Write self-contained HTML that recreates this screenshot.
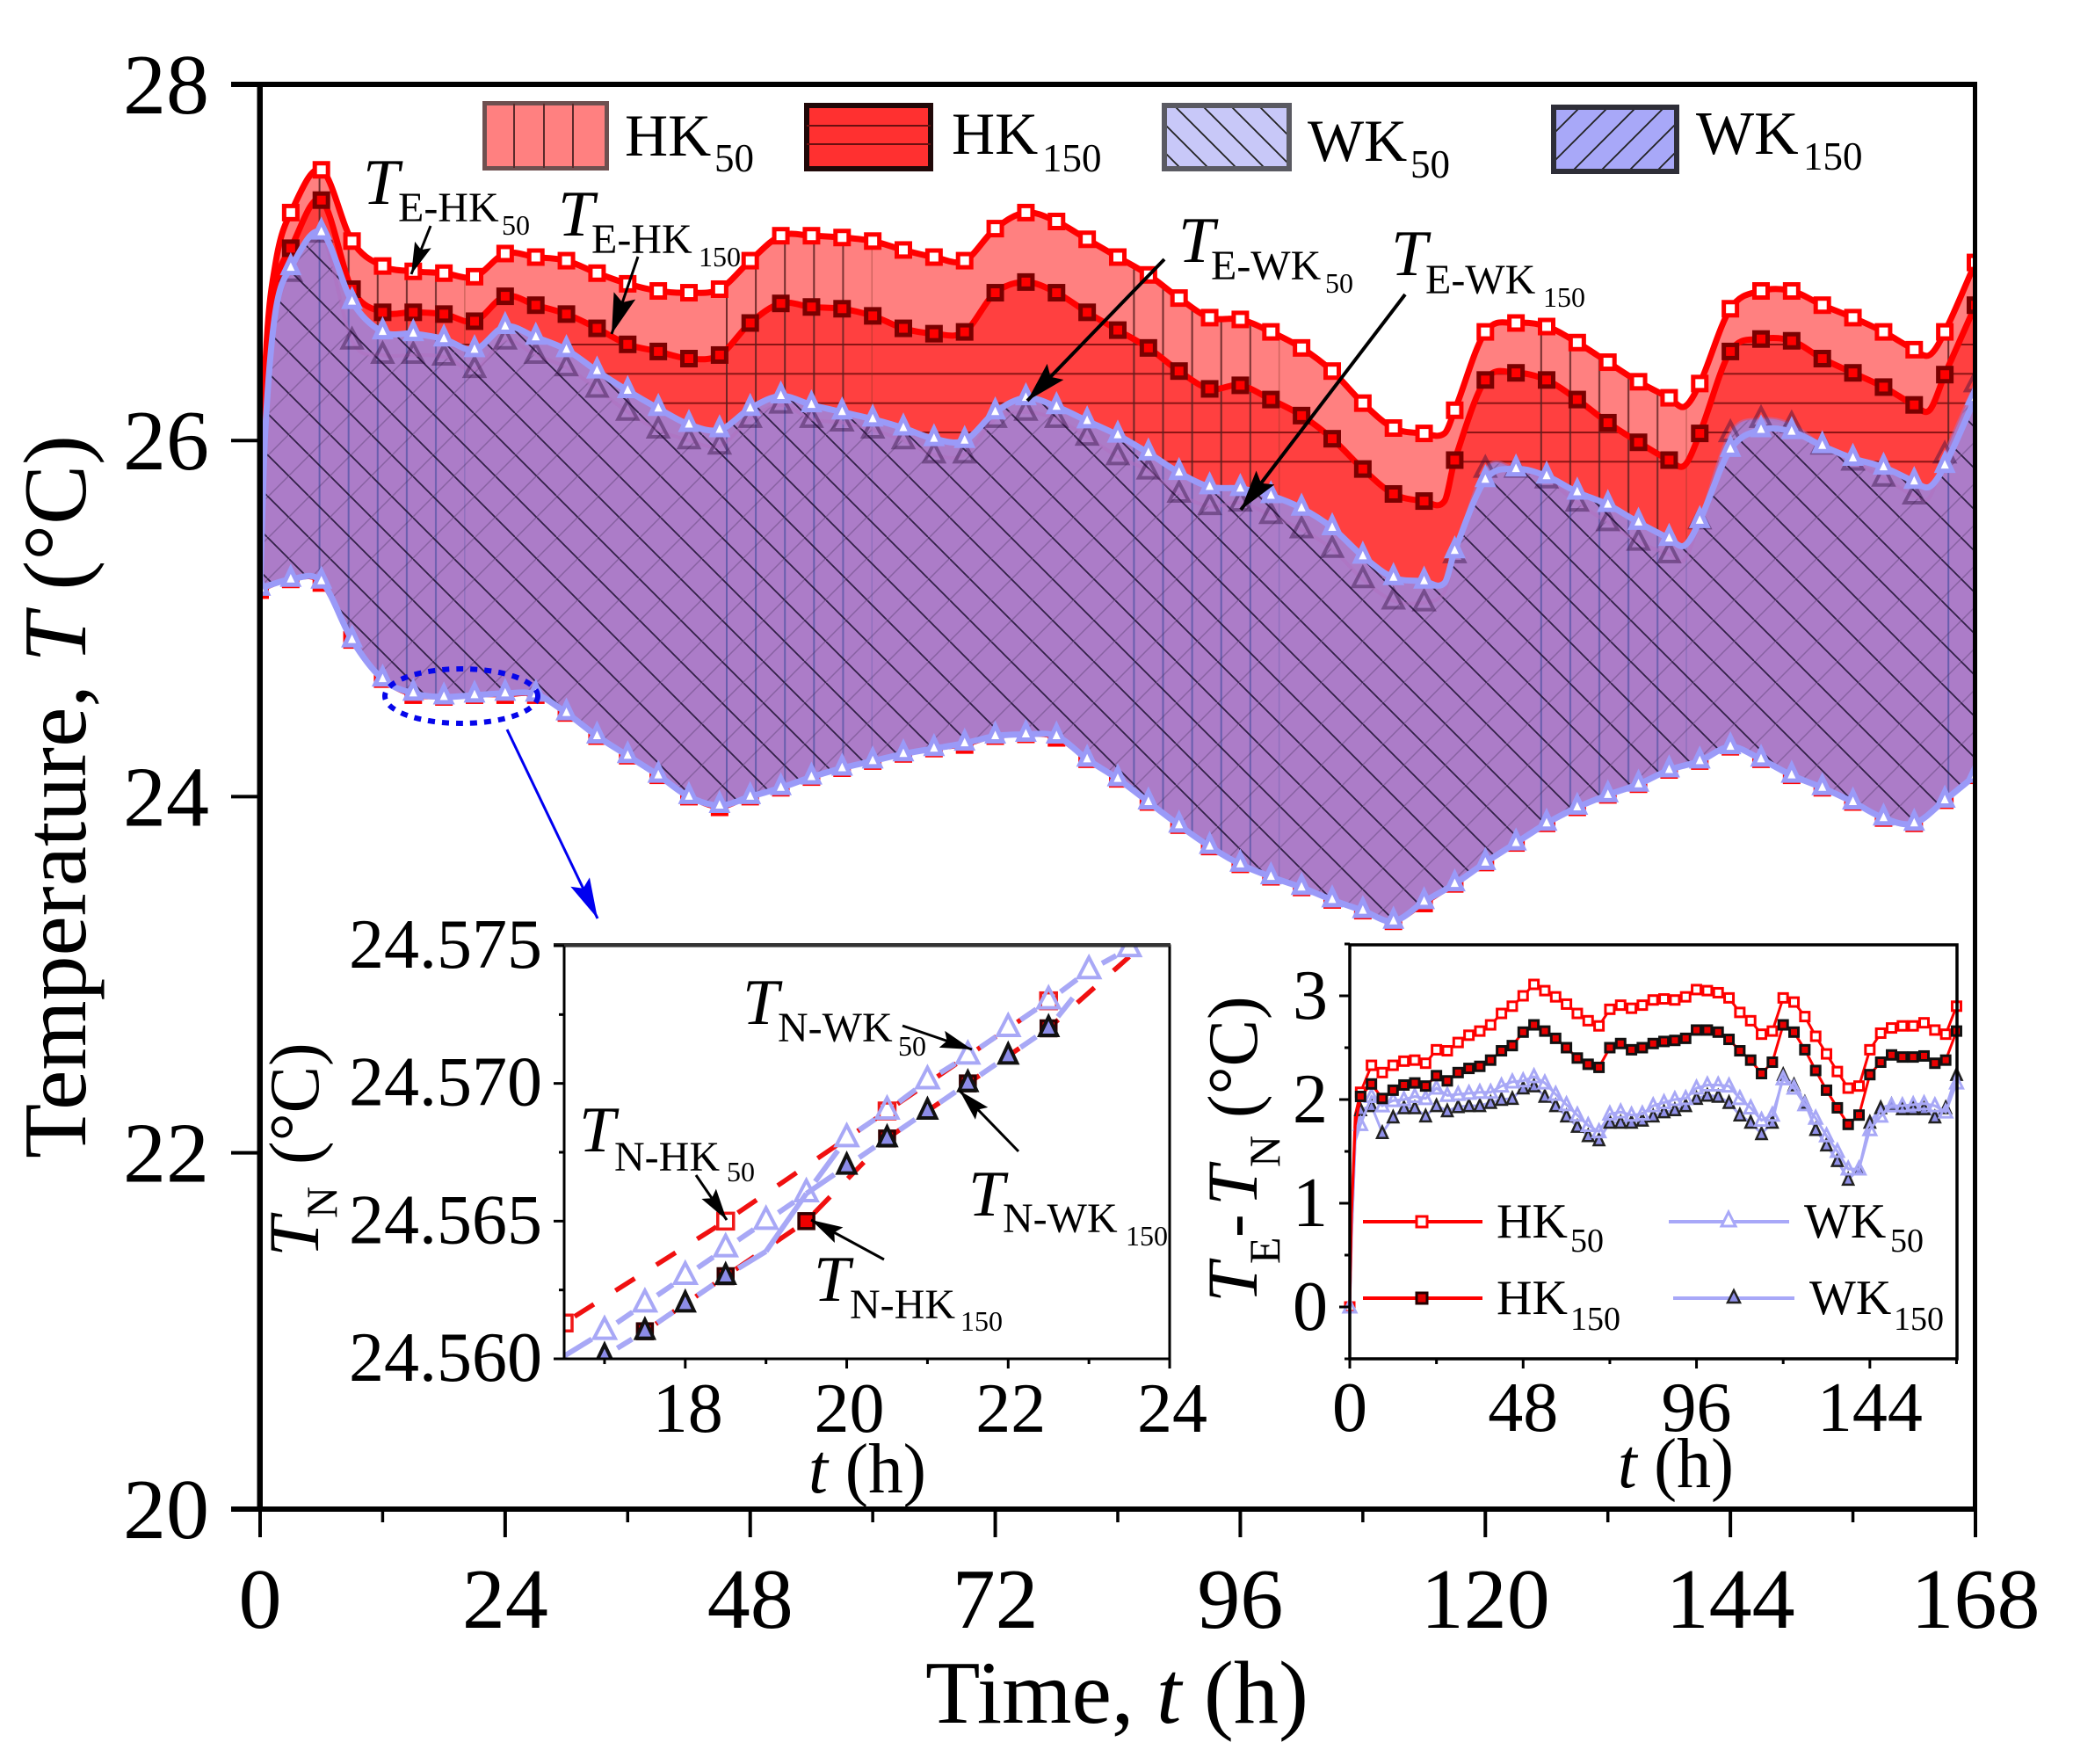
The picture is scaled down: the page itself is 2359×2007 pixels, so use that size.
<!DOCTYPE html>
<html lang="en">
<head>
<meta charset="utf-8">
<title>Temperature over time for HK and WK cases</title>
<style>
html,body{margin:0;padding:0;background:#fff;}
svg{display:block;font-family:"Liberation Serif","Times New Roman",serif;fill:#000;}
.i{font-style:italic;}
</style>
</head>
<body>
<svg id="chart" xmlns="http://www.w3.org/2000/svg" width="2359" height="2007" viewBox="0 0 2359 2007">
<defs>
  <pattern id="hatch-v-red" patternUnits="userSpaceOnUse" x="362.6" y="0" width="463.4" height="20">
    <rect x="0" width="2" height="20" fill="#5a2020" opacity=".85"/><rect x="33.1" width="2" height="20" fill="#5a2020" opacity=".85"/><rect x="66.2" width="2" height="20" fill="#5a2020" opacity=".85"/><rect x="99.3" width="2" height="20" fill="#5a2020" opacity=".85"/><rect x="132.4" width="2" height="20" fill="#5a2020" opacity=".8"/><rect x="165.5" width="1.5" height="20" fill="#7a3020" opacity=".35"/>
  </pattern>
  <pattern id="hatch-v-blue" patternUnits="userSpaceOnUse" x="362.6" y="0" width="463.4" height="20">
    <rect x="0" width="2" height="20" fill="#5c58a8" opacity=".85"/><rect x="33.1" width="2" height="20" fill="#5c58a8" opacity=".85"/><rect x="66.2" width="2" height="20" fill="#5c58a8" opacity=".85"/><rect x="99.3" width="2" height="20" fill="#5c58a8" opacity=".85"/><rect x="132.4" width="2" height="20" fill="#5c58a8" opacity=".8"/><rect x="165.5" width="1.5" height="20" fill="#5c58a8" opacity=".35"/>
  </pattern>
  <pattern id="hatch-h" patternUnits="userSpaceOnUse" x="0" y="391" width="20" height="463.4">
    <rect y="0" width="20" height="2" fill="#8c1414"/><rect y="33.3" width="20" height="2" fill="#8c1414"/><rect y="66.7" width="20" height="2" fill="#8c1414"/><rect y="100" width="20" height="2" fill="#8c1414"/><rect y="133.3" width="20" height="2" fill="#8c1414"/>
  </pattern>
  <pattern id="hatch-back" patternUnits="userSpaceOnUse" width="47" height="47">
    <path d="M22 0L47 25M0 25L22 47" stroke="#1c1030" stroke-width="1.8" fill="none" opacity=".85"/>
  </pattern>
  <pattern id="hatch-fwd" patternUnits="userSpaceOnUse" width="47" height="47">
    <path d="M24 0L0 24M47 24L24 47" stroke="#3a2a50" stroke-width="1.5" fill="none" opacity=".32"/>
  </pattern>
  <pattern id="hatch-back-sw" patternUnits="userSpaceOnUse" width="32" height="32">
    <path d="M0 0L32 32M-8 24L8 40M24 -8L40 8" stroke="#222" stroke-width="1.8" fill="none"/>
  </pattern>
  <pattern id="hatch-fwd-sw" patternUnits="userSpaceOnUse" width="32" height="32">
    <path d="M32 0L0 32M8 -8L-8 8M40 24L24 40" stroke="#222" stroke-width="1.8" fill="none"/>
  </pattern>
  <marker id="head-big" markerUnits="userSpaceOnUse" orient="auto" markerWidth="50" markerHeight="30" refX="46" refY="15"><path d="M0 2L46 15L0 28L8 15Z" fill="#000"/></marker>
  <marker id="head-mid" markerUnits="userSpaceOnUse" orient="auto" markerWidth="40" markerHeight="26" refX="36" refY="13"><path d="M0 3L36 13L0 23L6 13Z" fill="#000"/></marker>
  <marker id="head-blue" markerUnits="userSpaceOnUse" orient="auto" markerWidth="50" markerHeight="30" refX="46" refY="15"><path d="M0 3L46 15L0 27L8 15Z" fill="#0000f0"/></marker>
  <clipPath id="clip-main"><rect x="296" y="96" width="1950" height="1621"/></clipPath>
  <clipPath id="clip-inset1"><rect x="642" y="1076" width="689" height="470"/></clipPath>
</defs>

<rect width="2359" height="2007" fill="#fff"/>

<g id="main-series" clip-path="url(#clip-main)"></g>

<!-- main frame -->
<g fill="#000">
  <rect x="263" y="93" width="1985" height="6"/>
  <rect x="292.5" y="93" width="6.5" height="1626"/>
  <rect x="2245" y="93" width="5" height="1626"/>
  <rect x="263" y="1714" width="1987" height="6"/>
</g>
<g id="main-ticks"></g>

<text transform="translate(97,1318) rotate(-90)" font-size="102" textLength="823" lengthAdjust="spacingAndGlyphs">Temperature, <tspan class="i">T</tspan> (°C)</text>
<text x="1053" y="1960" font-size="102" textLength="436" lengthAdjust="spacingAndGlyphs">Time, <tspan class="i">t</tspan> (h)</text>

<!-- main legend -->
<g>
  <g>
    <rect x="551.5" y="117.5" width="139" height="74" fill="#ff8080" stroke="#6e5050" stroke-width="5"/>
    <path d="M585 118V191M619 118V191M652 118V191" stroke="#5a2a2a" stroke-width="2"/>
    <text x="711" y="177" font-size="68">HK</text>
    <text x="813" y="195" font-size="45">50</text>
  </g>
  <g>
    <rect x="918" y="120" width="141" height="72" fill="#ff3030" stroke="#200808" stroke-width="6"/>
    <path d="M918 143H1059M918 164H1059" stroke="#6a1010" stroke-width="2"/>
    <text x="1083" y="175" font-size="68">HK</text>
    <text x="1186" y="195" font-size="45">150</text>
  </g>
  <g>
    <rect x="1325" y="120" width="142" height="72" fill="#c8c8f8" stroke="#5a5a62" stroke-width="6"/>
    <rect x="1328" y="123" width="136" height="66" fill="url(#hatch-back-sw)"/>
    <text x="1488" y="183" font-size="68">WK</text>
    <text x="1605" y="202" font-size="45">50</text>
  </g>
  <g>
    <rect x="1768" y="122" width="140" height="73" fill="#a8a8f8" stroke="#2e2e38" stroke-width="6"/>
    <rect x="1771" y="125" width="134" height="67" fill="url(#hatch-fwd-sw)"/>
    <text x="1930" y="175" font-size="70">WK</text>
    <text x="2052" y="193" font-size="45">150</text>
  </g>
</g>

<g>
  <g>
    <text class="i" x="413" y="232" font-size="74">T</text>
    <text x="453" y="252" font-size="48">E-HK</text>
    <text x="571" y="267" font-size="32">50</text>
  </g>
  <g>
    <text class="i" x="635" y="268" font-size="74">T</text>
    <text x="673" y="288" font-size="48">E-HK</text>
    <text x="795" y="303" font-size="32">150</text>
  </g>
  <g>
    <text class="i" x="1341" y="298" font-size="74">T</text>
    <text x="1378" y="318" font-size="48">E-WK</text>
    <text x="1508" y="333" font-size="32">50</text>
  </g>
  <g>
    <text class="i" x="1583" y="313" font-size="74">T</text>
    <text x="1622" y="334" font-size="48">E-WK</text>
    <text x="1756" y="349" font-size="32">150</text>
  </g>
  <line x1="490" y1="257" x2="468" y2="312" stroke="#000" stroke-width="3" marker-end="url(#head-mid)"/>
  <line x1="726" y1="292" x2="696" y2="380" stroke="#000" stroke-width="3" marker-end="url(#head-big)"/>
  <line x1="1325" y1="295" x2="1169" y2="456" stroke="#000" stroke-width="4" marker-end="url(#head-big)"/>
  <line x1="1599" y1="335" x2="1412" y2="580" stroke="#000" stroke-width="4" marker-end="url(#head-big)"/>
  <ellipse cx="525" cy="792" rx="87" ry="31" fill="none" stroke="#0606ea" stroke-width="6" stroke-dasharray="8 8"/>
  <line x1="577" y1="830" x2="680" y2="1045" stroke="#0000f0" stroke-width="3" marker-end="url(#head-blue)"/>
</g>

<!-- inset 1 -->
<g>
  <rect x="642" y="1076" width="689" height="470" fill="#fff"/>
  <g id="inset1-series" clip-path="url(#clip-inset1)"></g>
  <path d="M642 1076H1331V1546H642Z" fill="none" stroke="#000" stroke-width="3"/>
  <rect x="630" y="1073" width="702" height="4" fill="#333"/>
  <g id="inset1-ticks"></g>
  <text x="920" y="1698" font-size="80" textLength="134" lengthAdjust="spacingAndGlyphs"><tspan class="i">t</tspan> (h)</text>
  <g>
    <text class="i" transform="translate(362,1430) rotate(-90)" font-size="82">T</text>
    <text transform="translate(383,1386) rotate(-90)" font-size="50">N</text>
    <text transform="translate(362,1325) rotate(-90)" font-size="80">(°C)</text>
  </g>
  <g>
    <text class="i" x="845" y="1165" font-size="74">T</text>
    <text x="885" y="1185" font-size="48">N-WK</text>
    <text x="1022" y="1201" font-size="32">50</text>
  </g>
  <g>
    <text class="i" x="659" y="1310" font-size="74">T</text>
    <text x="699" y="1332" font-size="48">N-HK</text>
    <text x="827" y="1344" font-size="32">50</text>
  </g>
  <g>
    <text class="i" x="1102" y="1383" font-size="74">T</text>
    <text x="1141" y="1402" font-size="48">N-WK</text>
    <text x="1281" y="1417" font-size="32">150</text>
  </g>
  <g>
    <text class="i" x="926" y="1480" font-size="74">T</text>
    <text x="967" y="1500" font-size="48">N-HK</text>
    <text x="1093" y="1514" font-size="32">150</text>
  </g>
  <line x1="1027" y1="1167" x2="1106" y2="1194" stroke="#000" stroke-width="3" marker-end="url(#head-mid)"/>
  <line x1="1159" y1="1310" x2="1092" y2="1241" stroke="#000" stroke-width="3" marker-end="url(#head-mid)"/>
  <line x1="1006" y1="1433" x2="923" y2="1388" stroke="#000" stroke-width="3" marker-end="url(#head-mid)"/>
  <line x1="792" y1="1337" x2="827" y2="1388" stroke="#000" stroke-width="3" marker-end="url(#head-mid)"/>
</g>

<!-- inset 2 -->
<g>
  <rect x="1536" y="1075" width="691" height="471" fill="#fff"/>
  <g id="inset2-series"></g>
  <path d="M1536 1075H2227V1546H1536Z" fill="none" stroke="#000" stroke-width="3.5"/>
  <g id="inset2-ticks"></g>
  <text x="1841" y="1692" font-size="80" textLength="132" lengthAdjust="spacingAndGlyphs"><tspan class="i">t</tspan> (h)</text>
  <g>
    <text class="i" transform="translate(1430,1482) rotate(-90)" font-size="82">T</text>
    <text transform="translate(1456,1438) rotate(-90)" font-size="50">E</text>
    <text transform="translate(1430,1408) rotate(-90)" font-size="80">-</text>
    <text class="i" transform="translate(1430,1372) rotate(-90)" font-size="82">T</text>
    <text transform="translate(1456,1328) rotate(-90)" font-size="50">N</text>
    <text transform="translate(1430,1272) rotate(-90)" font-size="80">(°C)</text>
  </g>
  <g id="inset2-legend">
    <g>
      <line x1="1551" x2="1687" y1="1390" y2="1390" stroke="#f00" stroke-width="4"/>
      <rect x="1612" y="1384" width="12" height="12" fill="#fff" stroke="#f00" stroke-width="3"/>
      <text x="1703" y="1408" font-size="56">HK</text>
      <text x="1787" y="1424" font-size="38">50</text>
    </g>
    <g>
      <line x1="1551" x2="1687" y1="1477" y2="1477" stroke="#f00" stroke-width="4"/>
      <rect x="1612" y="1471" width="12" height="12" fill="#e00000" stroke="#200" stroke-width="3"/>
      <text x="1703" y="1495" font-size="56">HK</text>
      <text x="1787" y="1513" font-size="38">150</text>
    </g>
    <g>
      <line x1="1899" x2="2036" y1="1390" y2="1390" stroke="#a8a8f8" stroke-width="4"/>
      <polygon points="1967,1379 1975,1395 1959,1395" fill="#fff" stroke="#a8a8f8" stroke-width="3"/>
      <text x="2053" y="1408" font-size="56">WK</text>
      <text x="2151" y="1424" font-size="38">50</text>
    </g>
    <g>
      <line x1="1904" x2="2042" y1="1477" y2="1477" stroke="#a8a8f8" stroke-width="4"/>
      <polygon points="1973,1468 1980,1482 1966,1482" fill="#9090e8" stroke="#222" stroke-width="2.5"/>
      <text x="2059" y="1495" font-size="56">WK</text>
      <text x="2155" y="1513" font-size="38">150</text>
    </g>
  </g>
</g>
</svg>

<script>
// ---------- main chart data ----------
const hoursEdge = [0,0.5,1.5,3,6,9,12,15,18,21,24,27,30,33,36,39,42,45,48,51,54,57,60,63,66,69,72,75,78,81,84,87,90,93,96,99,102,105,108,111,114,116,117,120,123,126,129,132,135,138,139.5,141,144,147,150,153,156,159,162,163.5,165,168];
const edgeHK50 = [25.17,26.4,26.99,27.28,27.52,27.12,26.98,26.95,26.94,26.92,27.05,27.03,27.01,26.94,26.88,26.84,26.83,26.85,27.01,27.15,27.15,27.14,27.12,27.07,27.03,27.01,27.19,27.28,27.23,27.13,27.03,26.93,26.80,26.69,26.68,26.61,26.52,26.39,26.21,26.07,26.04,26.04,26.17,26.61,26.66,26.64,26.55,26.44,26.33,26.24,26.19,26.32,26.74,26.84,26.84,26.76,26.69,26.61,26.51,26.48,26.61,27.00];
const edgeHK150 = [25.17,26.25,26.85,27.08,27.35,26.85,26.72,26.72,26.71,26.67,26.81,26.76,26.71,26.63,26.54,26.50,26.46,26.48,26.66,26.77,26.75,26.74,26.70,26.63,26.60,26.61,26.83,26.89,26.83,26.72,26.62,26.52,26.39,26.29,26.31,26.23,26.14,26.01,25.84,25.70,25.66,25.66,25.89,26.34,26.38,26.34,26.23,26.10,25.99,25.89,25.86,26.04,26.50,26.57,26.56,26.46,26.38,26.30,26.20,26.17,26.37,26.76];
const edgeWK50 = [25.17,26.05,26.72,26.97,27.17,26.78,26.61,26.60,26.57,26.51,26.64,26.58,26.51,26.39,26.28,26.18,26.09,26.06,26.18,26.25,26.20,26.16,26.12,26.07,26.01,26.00,26.16,26.24,26.19,26.11,26.03,25.93,25.82,25.74,25.73,25.69,25.62,25.51,25.35,25.23,25.21,25.20,25.38,25.78,25.84,25.80,25.71,25.64,25.54,25.45,25.41,25.55,25.95,26.06,26.05,25.97,25.90,25.85,25.77,25.74,25.86,26.24];
const edgeWK150 = [25.17,26.0,26.68,26.94,27.16,26.56,26.48,26.48,26.47,26.40,26.56,26.48,26.41,26.29,26.16,26.06,26.00,25.97,26.12,26.20,26.12,26.10,26.06,26.00,25.92,25.92,26.12,26.16,26.12,26.02,25.91,25.83,25.70,25.63,25.65,25.58,25.50,25.39,25.22,25.10,25.09,25.15,25.36,25.84,25.84,25.78,25.65,25.54,25.43,25.36,25.33,25.55,26.04,26.12,26.09,25.97,25.88,25.79,25.69,25.68,25.92,26.32];
const hoursNode = [0,3,6,9,12,15,18,21,24,27,30,33,36,39,42,45,48,51,54,57,60,63,66,69,72,75,78,81,84,87,90,93,96,99,102,105,108,111,114,117,120,123,126,129,132,135,138,141,144,147,150,153,156,159,162,165,168];
const nodeWK = [25.17,25.22,25.21,24.88,24.66,24.58,24.56,24.57,24.58,24.575,24.47,24.34,24.23,24.12,24.00,23.95,24.00,24.05,24.11,24.16,24.20,24.24,24.27,24.30,24.34,24.35,24.34,24.21,24.10,23.97,23.84,23.72,23.62,23.55,23.49,23.42,23.36,23.30,23.41,23.51,23.63,23.74,23.85,23.94,24.01,24.07,24.15,24.20,24.28,24.21,24.12,24.05,23.97,23.88,23.85,23.98,24.12];
const nodeHK = [25.16,25.22,25.20,24.88,24.66,24.57,24.56,24.57,24.57,24.57,24.47,24.34,24.23,24.12,24.00,23.94,24.00,24.05,24.11,24.16,24.20,24.24,24.27,24.29,24.34,24.35,24.33,24.21,24.10,23.97,23.84,23.72,23.62,23.55,23.49,23.42,23.36,23.30,23.40,23.51,23.63,23.74,23.85,23.94,24.01,24.07,24.15,24.20,24.28,24.21,24.12,24.05,23.97,23.88,23.85,23.98,24.12];
const mainXMajor = [0,24,48,72,96,120,144,168];
const mainXMinor = [12,36,60,84,108,132,156];
const mainYMajor = [20,22,24,26,28];

// ---------- inset 1 data (node temperature zoom) ----------
const inset1HoursWK50 = [16.5,17,17.5,18,18.5,19,19.5,20,20.5,21,21.5,22,22.5,23,23.5];
const inset1WK50 = [24.5601,24.5610,24.5620,24.5630,24.5640,24.5650,24.5660,24.5680,24.5690,24.5701,24.5710,24.5720,24.5730,24.5741,24.5749];
const inset1HoursWK150 = [16.5,17,17.5,18,18.5,19,19.5,20,20.5,21,21.5,22,22.5,22.8];
const inset1WK150 = [24.5591,24.5601,24.5610,24.5620,24.5630,24.5639,24.5660,24.5670,24.5680,24.5690,24.5700,24.5710,24.5720,24.5731];
const inset1WK150NoMarker = [16.5,19,19.5,22.8];
const inset1HoursHK50 = [16.5,18.5,20.5,22.5];
const inset1HK50 = [24.5613,24.5650,24.5690,24.5730];
const inset1HoursHK150 = [17.5,18.5,19.5,20.5,21.5,22.5,23.5];
const inset1HK150 = [24.5610,24.5630,24.5650,24.5680,24.5700,24.5720,24.5746];
const inset1HK150NoMarker = [23.5];
const inset1XMajor = [18,20,22,24];
const inset1XMinor = [17,19,21,23];
const inset1YMajor = ["24.560","24.565","24.570","24.575"];
const inset1YMinor = [24.5625,24.5675,24.5725];

// ---------- inset 2 data (difference) ----------
const hoursDiff = [0,0.5,1.5,3,6,9,12,15,18,21,24,27,30,33,36,39,42,45,48,51,54,57,60,63,66,69,72,75,78,81,84,87,90,93,96,99,102,105,108,111,114,117,120,123,126,129,132,135,138,141,144,147,150,153,156,159,162,165,168];
const diffHK50 = [0,0.9,1.85,2.07,2.33,2.26,2.33,2.37,2.38,2.35,2.48,2.47,2.55,2.62,2.66,2.72,2.83,2.90,3.00,3.11,3.05,2.99,2.92,2.83,2.76,2.71,2.87,2.91,2.88,2.91,2.96,2.97,2.96,2.99,3.06,3.05,3.03,2.98,2.84,2.76,2.63,2.66,2.98,2.94,2.80,2.61,2.44,2.27,2.11,2.13,2.48,2.64,2.69,2.71,2.71,2.74,2.67,2.63,2.90];
const diffHK150 = [0,0.9,1.75,2.03,2.15,2.01,2.09,2.14,2.16,2.13,2.23,2.18,2.26,2.30,2.32,2.38,2.47,2.52,2.65,2.72,2.66,2.59,2.50,2.40,2.34,2.31,2.50,2.54,2.48,2.50,2.54,2.56,2.57,2.59,2.67,2.67,2.65,2.58,2.47,2.38,2.25,2.36,2.72,2.65,2.48,2.28,2.09,1.92,1.76,1.85,2.24,2.36,2.43,2.41,2.41,2.42,2.35,2.38,2.66];
const diffWK50 = [0,0.7,1.6,1.76,2.03,1.94,1.99,2.00,2.03,2.01,2.11,2.04,2.05,2.06,2.07,2.07,2.13,2.17,2.18,2.22,2.16,2.05,1.95,1.85,1.75,1.69,1.86,1.88,1.85,1.86,1.94,1.97,2.00,2.01,2.11,2.14,2.14,2.13,2.01,1.92,1.80,1.85,2.20,2.11,1.95,1.82,1.65,1.50,1.33,1.33,1.71,1.84,1.94,1.94,1.95,1.96,1.94,1.88,2.16];
const diffWK150 = [0,0.7,1.6,1.90,1.94,1.68,1.83,1.92,1.92,1.84,1.94,1.89,1.93,1.94,1.94,1.97,2.00,2.01,2.11,2.13,2.03,1.94,1.84,1.74,1.65,1.61,1.78,1.78,1.78,1.80,1.84,1.88,1.90,1.94,2.01,2.04,2.03,1.97,1.85,1.78,1.67,1.78,2.24,2.14,1.97,1.71,1.56,1.41,1.23,1.33,1.78,1.92,1.95,1.91,1.91,1.91,1.83,1.92,2.24];
const inset2XMajor = [0,48,96,144];
const inset2XMinor = [24,72,120,168];
const inset2YMajor = [0,1,2,3];
const inset2YMinor = [0.5,1.5,2.5,3.5,-0.5];

// ---------- axis functions ----------
function mainX(t){ return 296 + t * 11.619; }
function mainY(v){ return 96 + (28 - v) * 202.6; }
function in1X(t){ return 642 + (t - 16.5) * 91.87; }
function in1Y(v){ return 1076 + (24.575 - v) * 31333; }
function in2X(t){ return 1536 + t * 4.11; }
function in2Y(v){ return 1487 - v * 118; }

// ---------- helpers ----------
const NS = "http://www.w3.org/2000/svg";
function make(parent, tag, props, name){
  const el = document.createElementNS(NS, tag);
  for (const k in props) el.setAttribute(k, props[k]);
  
  
  parent.appendChild(el);
  return el;
}
function hermite(hours, vals, fx, fy, lead){
  const p = hours.map((t,i)=>[fx(t), fy(vals[i])]);
  const n = p.length;
  const s = [];
  for (let i=0;i<n;i++){
    const a = p[Math.max(i-1,0)], b = p[Math.min(i+1,n-1)];
    s.push((b[1]-a[1])/(b[0]-a[0]));
  }
  let d = lead + p[0][0].toFixed(1) + " " + p[0][1].toFixed(1);
  for (let i=0;i<n-1;i++){
    const h = p[i+1][0]-p[i][0];
    d += "C" + (p[i][0]+h/3).toFixed(1) + " " + (p[i][1]+s[i]*h/3).toFixed(1) + " " +
         (p[i+1][0]-h/3).toFixed(1) + " " + (p[i+1][1]-s[i+1]*h/3).toFixed(1) + " " +
         p[i+1][0].toFixed(1) + " " + p[i+1][1].toFixed(1);
  }
  return d;
}
function rev(a){ return a.slice().reverse(); }
function areaPath(h1,v1,h2,v2){
  return hermite(h1,v1,mainX,mainY,"M") + hermite(rev(h2),rev(v2),mainX,mainY,"L") + "Z";
}
function square(parent,cx,cy,size,fill,stroke,sw,name){
  return make(parent,'rect',{x:cx-size/2,y:cy-size/2,width:size,height:size,fill:fill,stroke:stroke,'stroke-width':sw},name);
}
function triangle(parent,cx,cy,up,down,half,fill,stroke,sw,opacity,name){
  const pts = cx+","+(cy-up)+" "+(cx+half)+","+(cy+down)+" "+(cx-half)+","+(cy+down);
  return make(parent,'polygon',{points:pts,fill:fill,stroke:stroke,'stroke-width':sw,opacity:opacity,'stroke-linejoin':'miter'},name);
}
function isMarkerHour(t){ return t > 0 && t % 3 === 0; }

// ---------- main chart ----------
const mainLayer = document.getElementById('main-series');
const areaHK50 = areaPath(hoursEdge,edgeHK50,hoursNode,nodeHK);
const areaHK150 = areaPath(hoursEdge,edgeHK150,hoursNode,nodeHK);
const areaWK50 = areaPath(hoursEdge,edgeWK50,hoursNode,nodeWK);
const areaWK150 = areaPath(hoursEdge,edgeWK150,hoursNode,nodeWK);
make(mainLayer,'path',{d:areaHK50,fill:'#ff8080'},'area-hk50');
make(mainLayer,'path',{d:areaHK50,fill:'url(#hatch-v-red)'},'area-hk50-hatch');
make(mainLayer,'path',{d:areaHK150,fill:'#ff4040'},'area-hk150');
make(mainLayer,'path',{d:areaHK150,fill:'url(#hatch-h)'},'area-hk150-hatch');
make(mainLayer,'path',{d:areaHK150,fill:'url(#hatch-v-red)'},'area-hk150-vertical-hatch');
make(mainLayer,'path',{d:hermite(hoursEdge,edgeHK50,mainX,mainY,"M"),fill:'none',stroke:'#ff0000','stroke-width':7},'line-te-hk50');
make(mainLayer,'path',{d:hermite(hoursEdge,edgeHK150,mainX,mainY,"M"),fill:'none',stroke:'#ff0000','stroke-width':7},'line-te-hk150');
make(mainLayer,'path',{d:hermite(hoursNode,nodeHK,mainX,mainY,"M"),fill:'none',stroke:'#ff0000','stroke-width':5},'line-tn-hk');
hoursEdge.forEach((t,i)=>{
  if(!isMarkerHour(t)) return;
  square(mainLayer,mainX(t),mainY(edgeHK50[i]),15,'#fff','#ff0000',5,'marker-te-hk50');
});
hoursEdge.forEach((t,i)=>{
  if(!isMarkerHour(t)) return;
  square(mainLayer,mainX(t),mainY(edgeHK150[i]),15,'#ff0000','#7a0000',5,'marker-te-hk150');
});
hoursNode.forEach((t,i)=>{
  square(mainLayer,mainX(t),mainY(nodeHK[i]),16,'#fff','#ff0000',4,'marker-tn-hk');
});
make(mainLayer,'path',{d:areaWK50,fill:'#ac7cc8'},'area-wk50');
make(mainLayer,'path',{d:areaWK150,fill:'#ac7cc8'},'area-wk150');
make(mainLayer,'path',{d:areaWK50,fill:'url(#hatch-v-blue)'},'area-wk-vertical-hatch');
make(mainLayer,'path',{d:areaWK50,fill:'url(#hatch-back)'},'area-wk50-hatch');
make(mainLayer,'path',{d:areaWK150,fill:'url(#hatch-fwd)'},'area-wk150-hatch');
make(mainLayer,'path',{d:hermite(hoursEdge,edgeWK150,mainX,mainY,"M"),fill:'none',stroke:'#b070c0','stroke-width':4,opacity:.5},'line-te-wk150');
hoursEdge.forEach((t,i)=>{
  if(!isMarkerHour(t)) return;
  triangle(mainLayer,mainX(t),mainY(edgeWK150[i]),13,8,11,'none','#2c0c3c',4,.42,'marker-te-wk150');
});
make(mainLayer,'path',{d:hermite(hoursEdge,edgeWK50,mainX,mainY,"M"),fill:'none',stroke:'#9a9af8','stroke-width':7},'line-te-wk50');
make(mainLayer,'path',{d:hermite(hoursNode,nodeWK,mainX,mainY,"M"),fill:'none',stroke:'#9a9af8','stroke-width':7},'line-tn-wk');
hoursEdge.forEach((t,i)=>{
  if(!isMarkerHour(t)) return;
  triangle(mainLayer,mainX(t),mainY(edgeWK50[i]),12,6,8.5,'#fff','#9a9af8',5,1,'marker-te-wk50');
});
hoursNode.forEach((t,i)=>{
  triangle(mainLayer,mainX(t),mainY(nodeWK[i]),12,6,8.5,'#fff','#9a9af8',5,1,'marker-tn-wk');
});

// main ticks
const mainTicks = document.getElementById('main-ticks');
mainXMajor.forEach(t=>{
  make(mainTicks,'line',{x1:mainX(t),x2:mainX(t),y1:1717,y2:1749,stroke:'#000','stroke-width':4},'x-tick');
  const lab = make(mainTicks,'text',{x:mainX(t),y:1852,'font-size':98,'text-anchor':'middle'},'x-tick-label');
  lab.textContent = t;
});
mainXMinor.forEach(t=>{
  make(mainTicks,'line',{x1:mainX(t),x2:mainX(t),y1:1717,y2:1732,stroke:'#000','stroke-width':3.5},'x-minor-tick');
});
mainYMajor.forEach(v=>{
  make(mainTicks,'line',{x1:263,x2:296,y1:mainY(v),y2:mainY(v),stroke:'#000','stroke-width':4},'y-tick');
  const lab = make(mainTicks,'text',{x:238,y:mainY(v)+33,'font-size':98,'text-anchor':'end'},'y-tick-label');
  lab.textContent = v;
});

// ---------- inset 1 ----------
const in1 = document.getElementById('inset1-series');
function pathOf(hours,vals){
  return hours.map((t,i)=>(i?"L":"M")+in1X(t).toFixed(1)+" "+in1Y(vals[i]).toFixed(1)).join("");
}
make(in1,'path',{d:pathOf(inset1HoursHK50,inset1HK50),fill:'none',stroke:'#f01010','stroke-width':5.5,'stroke-dasharray':'26 29','stroke-dashoffset':-14},'inset1-line-hk50');
make(in1,'path',{d:pathOf(inset1HoursHK150,inset1HK150),fill:'none',stroke:'#f01010','stroke-width':5.5,'stroke-dasharray':'26 29','stroke-dashoffset':-15},'inset1-line-hk150');
inset1HoursHK50.forEach((t,i)=>{
  square(in1,in1X(t),in1Y(inset1HK50[i]),18,'#fff','#f01818',3.5,'inset1-marker-hk50');
});
inset1HoursHK150.forEach((t,i)=>{
  if(inset1HK150NoMarker.includes(t)) return;
  square(in1,in1X(t),in1Y(inset1HK150[i]),17,'#f00000','#300000',3.5,'inset1-marker-hk150');
});
function gapLine(hours,vals,skip,name){
  for(let i=0;i<hours.length-1;i++){
    const x1=in1X(hours[i]),y1=in1Y(vals[i]),x2=in1X(hours[i+1]),y2=in1Y(vals[i+1]);
    const len=Math.hypot(x2-x1,y2-y1),ux=(x2-x1)/len,uy=(y2-y1)/len;
    const g1=skip.includes(hours[i])?0:17,g2=skip.includes(hours[i+1])?0:17;
    make(in1,'line',{x1:x1+ux*g1,y1:y1+uy*g1,x2:x2-ux*g2,y2:y2-uy*g2,stroke:'#a8a8f6','stroke-width':6},name);
  }
}
gapLine(inset1HoursWK150,inset1WK150,inset1WK150NoMarker,'inset1-line-wk150');
gapLine(inset1HoursWK50,inset1WK50,[16.5],'inset1-line-wk50');
inset1HoursWK50.forEach((t,i)=>{
  if(t===16.5) return;
  triangle(in1,in1X(t),in1Y(inset1WK50[i]),15,8,12,'none','#a8a8f6',4,1,'inset1-marker-wk50');
});
inset1HoursWK150.forEach((t,i)=>{
  if(inset1WK150NoMarker.includes(t)) return;
  triangle(in1,in1X(t),in1Y(inset1WK150[i]),13,8,10,'#8c8ce8','#111',4,1,'inset1-marker-wk150');
});
const in1T = document.getElementById('inset1-ticks');
inset1XMajor.forEach(t=>{
  make(in1T,'line',{x1:in1X(t),x2:in1X(t),y1:1546,y2:1557,stroke:'#000','stroke-width':3},'inset1-x-tick');
  const lab = make(in1T,'text',{x:in1X(t)+3,y:1629,'font-size':80,'text-anchor':'middle'},'inset1-x-tick-label');
  lab.textContent = t;
});
inset1XMinor.forEach(t=>{
  make(in1T,'line',{x1:in1X(t),x2:in1X(t),y1:1546,y2:1552,stroke:'#000','stroke-width':3},'inset1-x-minor-tick');
});
inset1YMajor.forEach(s=>{
  const v = parseFloat(s);
  make(in1T,'line',{x1:630,x2:642,y1:in1Y(v),y2:in1Y(v),stroke:'#000','stroke-width':3},'inset1-y-tick');
  const lab = make(in1T,'text',{x:617,y:in1Y(v)+25,'font-size':80,'text-anchor':'end'},'inset1-y-tick-label');
  lab.textContent = s;
});
inset1YMinor.forEach(v=>{
  make(in1T,'line',{x1:636,x2:642,y1:in1Y(v),y2:in1Y(v),stroke:'#000','stroke-width':3},'inset1-y-minor-tick');
});

// ---------- inset 2 ----------
const in2 = document.getElementById('inset2-series');
function polyOf(vals){
  return hoursDiff.map((t,i)=>in2X(t).toFixed(1)+","+in2Y(vals[i]).toFixed(1)).join(" ");
}
make(in2,'polyline',{points:polyOf(diffHK50),fill:'none',stroke:'#ff0000','stroke-width':3},'inset2-line-hk50');
hoursDiff.forEach((t,i)=>{
  if(t % 3 !== 0) return;
  square(in2,in2X(t),in2Y(diffHK50[i]),10,'#fff','#ff0000',3,'inset2-marker-hk50');
});
make(in2,'polyline',{points:polyOf(diffWK150),fill:'none',stroke:'#a8a8f6','stroke-width':3},'inset2-line-wk150');
hoursDiff.forEach((t,i)=>{
  if(!isMarkerHour(t)) return;
  triangle(in2,in2X(t),in2Y(diffWK150[i]),7,6,6,'#9090e8','#222',2.5,1,'inset2-marker-wk150');
});
make(in2,'polyline',{points:polyOf(diffWK50),fill:'none',stroke:'#a8a8f6','stroke-width':3},'inset2-line-wk50');
hoursDiff.forEach((t,i)=>{
  if(t % 3 !== 0) return;
  triangle(in2,in2X(t),in2Y(diffWK50[i]),8,6,7,'none','#a8a8f6',3,1,'inset2-marker-wk50');
});
make(in2,'polyline',{points:polyOf(diffHK150),fill:'none',stroke:'#ff0000','stroke-width':3},'inset2-line-hk150');
hoursDiff.forEach((t,i)=>{
  if(!isMarkerHour(t)) return;
  square(in2,in2X(t),in2Y(diffHK150[i]),10,'#e80000','#111',3,'inset2-marker-hk150');
});
const in2T = document.getElementById('inset2-ticks');
inset2XMajor.forEach(t=>{
  make(in2T,'line',{x1:in2X(t),x2:in2X(t),y1:1546,y2:1557,stroke:'#000','stroke-width':3},'inset2-x-tick');
  const lab = make(in2T,'text',{x:in2X(t),y:1628,'font-size':80,'text-anchor':'middle'},'inset2-x-tick-label');
  lab.textContent = t;
});
inset2XMinor.forEach(t=>{
  make(in2T,'line',{x1:in2X(t),x2:in2X(t),y1:1546,y2:1552,stroke:'#000','stroke-width':3},'inset2-x-minor-tick');
});
inset2YMajor.forEach(v=>{
  make(in2T,'line',{x1:1524,x2:1536,y1:in2Y(v),y2:in2Y(v),stroke:'#000','stroke-width':3},'inset2-y-tick');
  const lab = make(in2T,'text',{x:1511,y:in2Y(v)+26,'font-size':80,'text-anchor':'end'},'inset2-y-tick-label');
  lab.textContent = v;
});
inset2YMinor.forEach(v=>{
  make(in2T,'line',{x1:1530,x2:1536,y1:in2Y(v),y2:in2Y(v),stroke:'#000','stroke-width':3},'inset2-y-minor-tick');
});
</script>
</body>
</html>
